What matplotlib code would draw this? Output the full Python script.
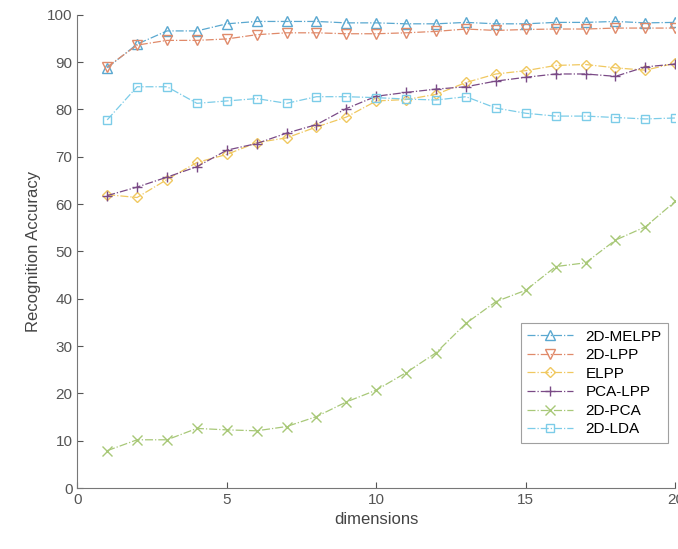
import matplotlib.pyplot as plt
import numpy as np

plt.rcParams['font.family'] = ['Liberation Sans', 'DejaVu Sans']

# data
dims = list(range(1, 21))
melpp = [88.8, 93.8, 96.6, 96.6, 98.1, 98.6, 98.6, 98.6, 98.3, 98.3,
         98.1, 98.1, 98.4, 98.1, 98.1, 98.4, 98.4, 98.6, 98.3, 98.4]
lpp2d = [89.0, 93.6, 94.6, 94.6, 94.9, 95.8, 96.2, 96.2, 96.0, 96.0,
         96.2, 96.5, 97.0, 96.7, 96.9, 97.0, 97.0, 97.2, 97.2, 97.2]
elpp = [62.0, 61.4, 65.2, 68.8, 70.5, 73.0, 74.0, 76.3, 78.4, 81.8,
        82.1, 83.2, 85.7, 87.5, 88.2, 89.3, 89.5, 88.8, 88.3, 89.8]
pca_lpp = [61.8, 63.6, 65.7, 67.9, 71.4, 72.8, 75.0, 76.8, 80.2, 82.8,
           83.6, 84.3, 84.8, 86.0, 86.8, 87.5, 87.5, 87.0, 89.0, 89.6]
pca2d = [7.9, 10.2, 10.2, 12.6, 12.3, 12.1, 13.0, 15.1, 18.2, 20.7,
         24.4, 28.6, 34.8, 39.4, 41.8, 46.8, 47.6, 52.4, 55.2, 60.6]
lda2d = [77.8, 84.8, 84.8, 81.3, 81.8, 82.3, 81.3, 82.7, 82.7, 82.5,
         82.2, 82.0, 82.7, 80.3, 79.2, 78.6, 78.6, 78.3, 78.0, 78.2]

names = ['2D-MELPP', '2D-LPP', 'ELPP', 'PCA-LPP', '2D-PCA', '2D-LDA']
series = [melpp, lpp2d, elpp, pca_lpp, pca2d, lda2d]
colors = ['#5aa8d0', '#e08a6a', '#f0c860', '#7a4a86', '#a8c878', '#7ccce8']
markers = ['^', 'v', 'D', '+', 'x', 's']

fig = plt.figure(figsize=(6.78, 5.49), dpi=100)
ax = fig.add_axes([0.114, 0.111, 0.882, 0.862])

for vals, name, c, m in zip(series, names, colors, markers):
    ms = 5.5 if m in ('D', 's') else 7
    ax.plot(dims, vals, linestyle='-.', color=c, linewidth=0.9, marker=m,
            markersize=ms, markerfacecolor='none', markeredgecolor=c,
            markeredgewidth=1.0, label=name)

ax.set_xlim(0, 20)
ax.set_ylim(0, 100)
ax.set_xticks([0, 5, 10, 15, 20])
ax.set_yticks(range(0, 101, 10))
ax.tick_params(colors='#555555', labelsize=11, direction='in', length=4)
for s in ['top', 'right']:
    ax.spines[s].set_visible(False)
for s in ['left', 'bottom']:
    ax.spines[s].set_color('#777777')
ax.set_xlabel('dimensions', fontsize=12, color='#444444')
ax.set_ylabel('Recognition Accuracy', fontsize=12, color='#444444')

leg = ax.legend(loc='lower right', bbox_to_anchor=(1.0, 0.08), fontsize=11,
                frameon=True, fancybox=False, edgecolor='#888888',
                handlelength=3, borderpad=0.4, labelspacing=0.3)
leg.get_frame().set_linewidth(0.8)

fig.savefig('out.png', dpi=100, facecolor='white')
